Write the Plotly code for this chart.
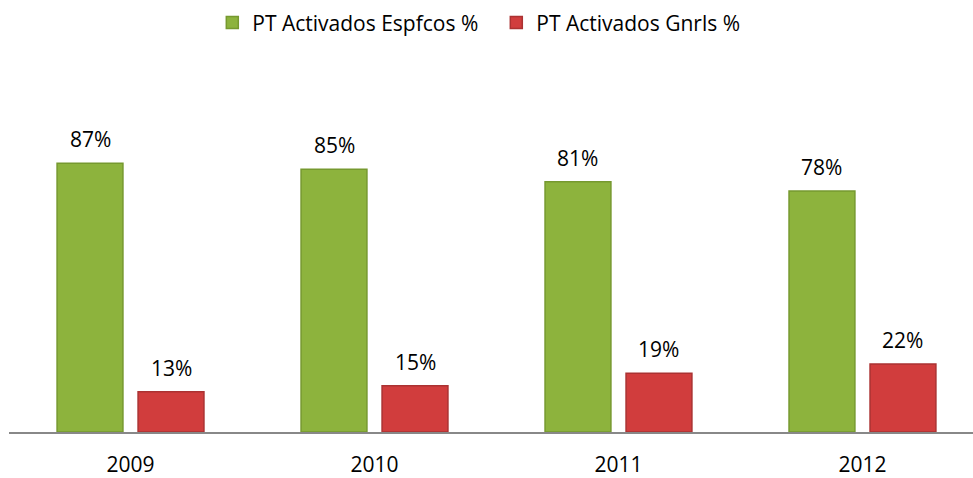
import plotly.graph_objects as go

years = ["2009", "2010", "2011", "2012"]
espfcos = [87, 85, 81, 78]
gnrls = [13, 15, 19, 22]
name_esp = "PT Activados Espfcos %"
name_gnr = "PT Activados Gnrls %"

FONT = "Open Sans, Liberation Sans, sans-serif"

fig = go.Figure()
fig.add_trace(go.Bar(
    x=years, y=espfcos, name=name_esp,
    marker=dict(color="#8DB33D", line=dict(color="#76992F", width=1.5)),
    offset=-0.301, width=0.27,
))
fig.add_trace(go.Bar(
    x=years, y=gnrls, name=name_gnr,
    marker=dict(color="#D13D3D", line=dict(color="#AB3232", width=1.5)),
    offset=0.031, width=0.27,
))

annotations = []
for i, v in enumerate(espfcos):
    annotations.append(dict(x=i, y=v, xref="x", yref="y", text=f"{v}%", showarrow=False,
                            xshift=-40.5, yanchor="bottom", yshift=8))
for i, v in enumerate(gnrls):
    annotations.append(dict(x=i, y=v, xref="x", yref="y", text=f"{v}%", showarrow=False,
                            xshift=40.5, yanchor="bottom", yshift=8))

fig.update_layout(
    width=973, height=478,
    margin=dict(l=9, r=0, t=123, b=46, autoexpand=False),
    paper_bgcolor="white", plot_bgcolor="white",
    font=dict(family=FONT, size=21, color="#000"),
    barmode="overlay",
    showlegend=True,
    legend=dict(orientation="h", x=0.5055, xanchor="center",
                y=0.995, yanchor="top", yref="container",
                font=dict(size=21), traceorder="normal",
                entrywidth=239, entrywidthmode="pixels"),
    annotations=annotations,
    xaxis=dict(type="category", range=[-0.498, 3.453], showgrid=False,
               showline=True, linecolor="#888888", linewidth=2,
               ticks="outside", ticklen=13, tickcolor="rgba(0,0,0,0)",
               tickfont=dict(size=21), zeroline=False, automargin=False),
    yaxis=dict(range=[0, 100], visible=False, showgrid=False, zeroline=False,
               automargin=False),
)

fig.write_html("out.html", config={"displayModeBar": False},
               post_script="document.body.style.margin='0';")
